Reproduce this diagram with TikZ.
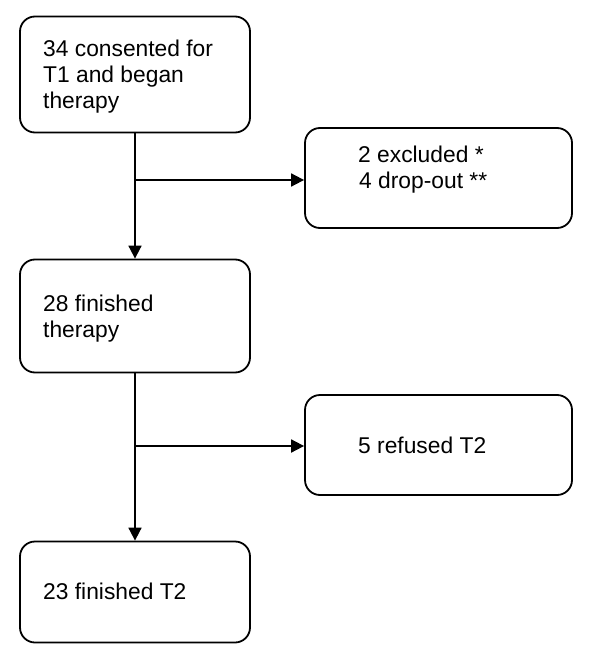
\documentclass[tikz,border=0pt]{standalone}
\usepackage{fontspec}
\setmainfont{Liberation Sans}
\usetikzlibrary{arrows.meta}
\begin{document}
\begin{tikzpicture}[x=1pt,y=-1pt,
  box/.style={draw=black, line width=1.8pt, rounded corners=15pt, inner sep=0pt},
  txt/.style={anchor=base west, inner sep=0pt, align=left, font=\fontsize{22.8pt}{26pt}\selectfont},
  arr/.style={draw=black, line width=1.8pt, -{Triangle[length=13pt,width=13pt]}}]
\useasboundingbox[fill=white] (0,0) rectangle (590,660);
% boxes
\node[box, minimum width=230pt, minimum height=116pt] (a) at (135,74.5) {};
\node[box, minimum width=267pt, minimum height=100pt] (b) at (438.5,178) {};
\node[box, minimum width=230pt, minimum height=113pt] (c) at (135,316) {};
\node[box, minimum width=267pt, minimum height=100pt] (d) at (438.5,445) {};
\node[box, minimum width=230pt, minimum height=101pt] (e) at (135,592) {};
% texts
\node[txt] (ta1) at (43,57) {34 consented for};
\node[txt] (ta2) at (43,83) {T1 and began};
\node[txt] (ta3) at (43,109) {therapy};
\node[txt] (tb1) at (358,163) {2 excluded *};
\node[txt] (tb2) at (359,189) {4 drop-out **};
\node[txt] (tc1) at (43,311) {28 finished};
\node[txt] (tc2) at (43,337) {therapy};
\node[txt] (td1) at (358,453) {5 refused T2};
\node[txt] (te1) at (43,599) {23 finished T2};
% connectors
\draw[arr] (a.south) -- (c.north);
\draw[arr] (c.south) -- (e.north);
\coordinate (j1) at (135,180);
\coordinate (j2) at (135,446);
\draw[arr] (j1) -- (b.west |- j1);
\draw[arr] (j2) -- (d.west |- j2);
\end{tikzpicture}
\end{document}
